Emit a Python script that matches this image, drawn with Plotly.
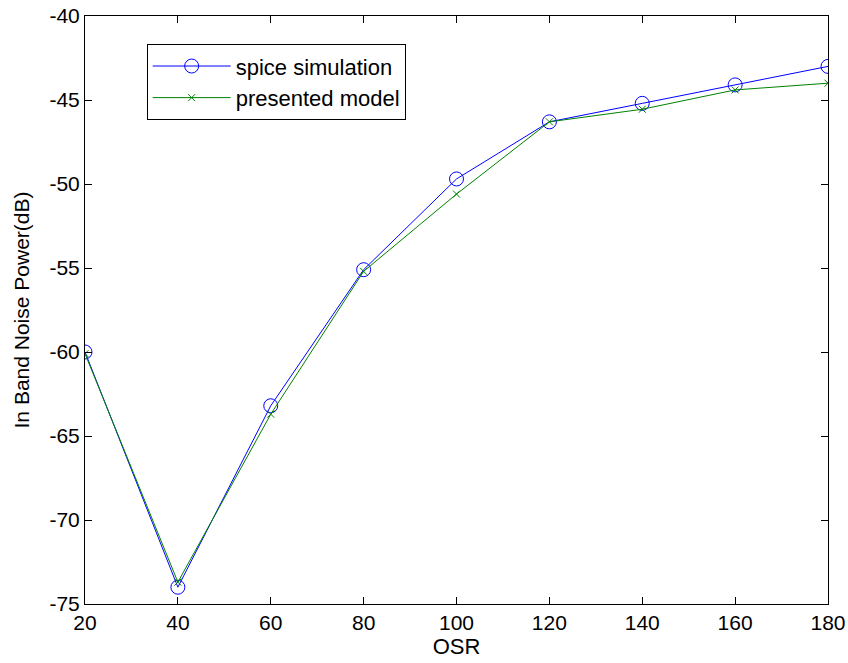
import plotly.graph_objects as go

# Oversampling ratio and in-band noise power (dB)
osr = [20, 40, 60, 80, 100, 120, 140, 160, 180]
spice_simulation = [-60.0, -74.0, -63.2, -55.1, -49.7, -46.3, -45.2, -44.1, -43.0]
presented_model = [-60.1, -73.7, -63.7, -55.2, -50.6, -46.3, -45.55, -44.4, -44.0]

x_ticks = [20, 40, 60, 80, 100, 120, 140, 160, 180]
y_ticks = [-40, -45, -50, -55, -60, -65, -70, -75]

FONT = "Liberation Sans, Arial, sans-serif"

fig = go.Figure()
fig.add_trace(go.Scatter(
    x=osr, y=spice_simulation, mode="lines+markers", name="spice simulation",
    line=dict(color="rgb(0,0,255)", width=1),
    marker=dict(symbol="circle-open", size=14, color="rgb(0,0,255)",
                line=dict(width=1, color="rgb(0,0,255)")),
))
fig.add_trace(go.Scatter(
    x=osr, y=presented_model, mode="lines+markers", name="presented model",
    line=dict(color="rgb(0,128,0)", width=1),
    marker=dict(symbol="x-thin-open", size=7, color="rgb(0,128,0)",
                line=dict(width=1, color="rgb(0,128,0)")),
))

axis_common = dict(
    showgrid=False, zeroline=False, showline=True, linecolor="black", linewidth=1,
    mirror="ticks", ticks="inside", ticklen=7, tickcolor="black", tickwidth=1,
    automargin=False,
    tickfont=dict(family=FONT, size=21, color="black"),
)

fig.update_layout(
    width=848, height=663,
    margin=dict(l=85, r=20, t=16, b=59),
    paper_bgcolor="white", plot_bgcolor="white",
    font=dict(family=FONT, size=21, color="black"),
    xaxis=dict(range=[20, 180], tickvals=x_ticks, ticktext=[str(v) for v in x_ticks],
               title=dict(text="OSR", standoff=4, font=dict(size=22)), **axis_common),
    yaxis=dict(range=[-75, -40], tickvals=y_ticks, ticktext=[str(v) for v in y_ticks],
               title=dict(text="In Band Noise Power(dB)", standoff=14, font=dict(size=21)),
               **axis_common),
    legend=dict(x=0.083, y=0.952, xanchor="left", yanchor="top",
                bgcolor="white", bordercolor="black", borderwidth=1,
                font=dict(family=FONT, size=22), tracegroupgap=0, itemwidth=78),
    showlegend=True,
)

fig.write_html("out.html")
